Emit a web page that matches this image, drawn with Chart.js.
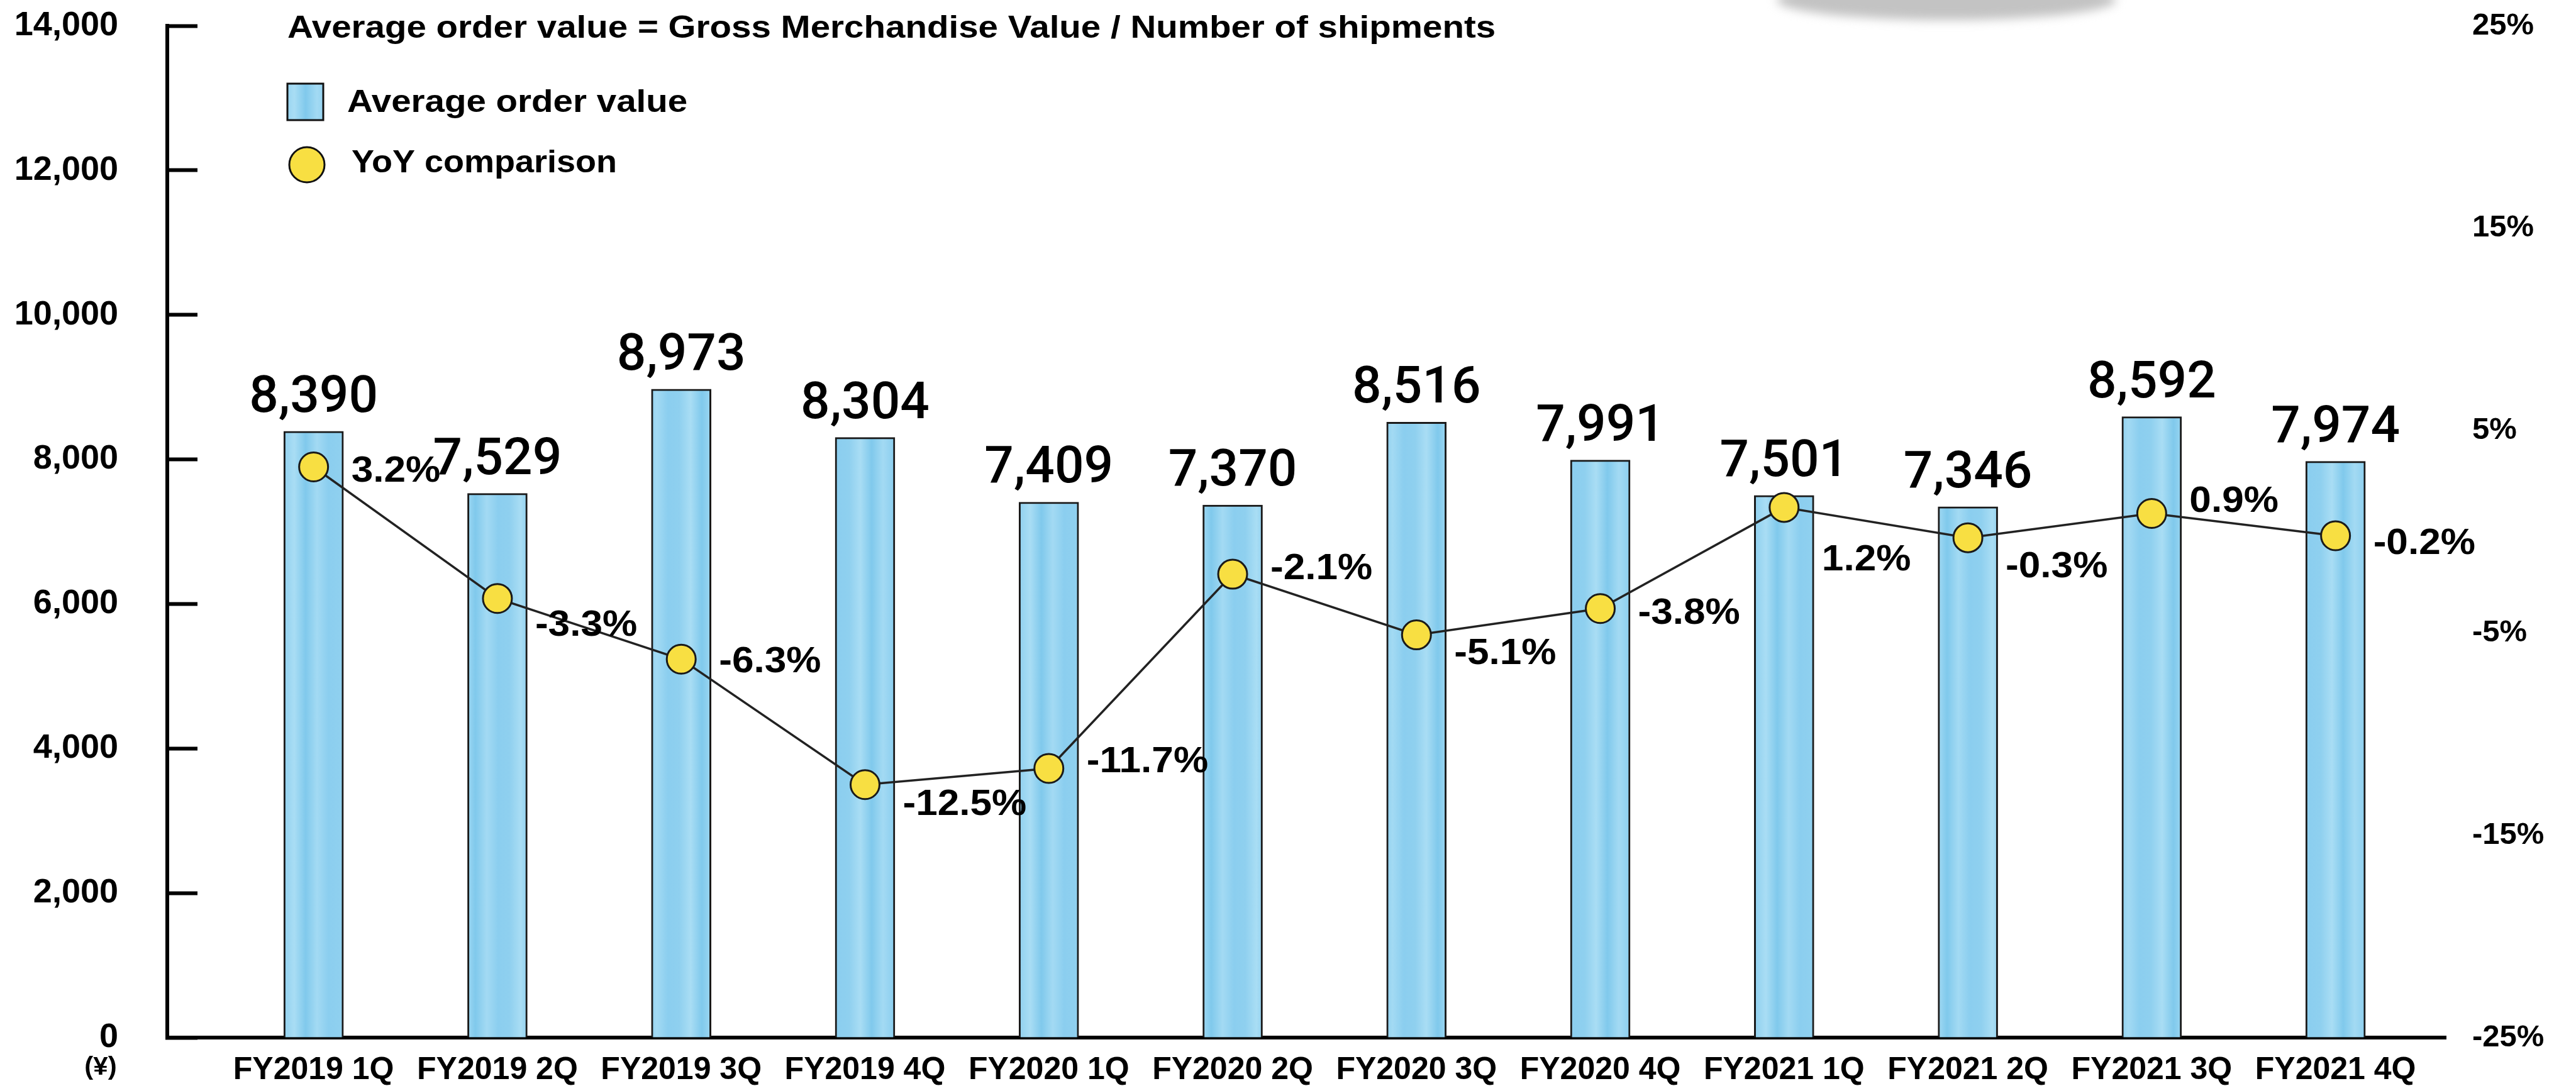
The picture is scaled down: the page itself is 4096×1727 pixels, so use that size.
<!DOCTYPE html>
<html>
<head>
<meta charset="utf-8">
<title>Average order value</title>
<script src="https://cdn.jsdelivr.net/npm/chart.js@4.4.1/dist/chart.umd.min.js"></script>
<style>
  html, body { margin: 0; padding: 0; background: #fff; }
  #wrap { width: 4096px; height: 1727px; }
</style>
</head>
<body>
<div id="wrap"><canvas id="orderChart"></canvas></div>
<script>
const quarters = ['FY2019 1Q', 'FY2019 2Q', 'FY2019 3Q', 'FY2019 4Q',
                  'FY2020 1Q', 'FY2020 2Q', 'FY2020 3Q', 'FY2020 4Q',
                  'FY2021 1Q', 'FY2021 2Q', 'FY2021 3Q', 'FY2021 4Q'];
const orderValues = [8390, 7529, 8973, 8304, 7409, 7370, 8516, 7991, 7501, 7346, 8592, 7974];
const yoyValues = [3.2, -3.3, -6.3, -12.5, -11.7, -2.1, -5.1, -3.8, 1.2, -0.3, 0.9, -0.2];
const yenTicks = [0, 2000, 4000, 6000, 8000, 10000, 12000, 14000];
const pctTicks = [-25, -15, -5, 5, 15, 25];

const formulaText = 'Average order value = Gross Merchandise Value / Number of shipments';
const barLegend = 'Average order value';
const lineLegend = 'YoY comparison';
const unitLabel = '(¥)';

// vertical nudge of each YoY label, like in the hand drawing
const yoyLabelNudge = [8, 44, 5, 33, -10, -8, 31, 8, 84, 47, -18, 13];

const FONT = "'Liberation Sans', Arial, Helvetica, sans-serif";
const canvas = document.getElementById('orderChart');
const ctx = canvas.getContext('2d');

// watercolour-ish fill for the bars
function watercolor() {
  const c = document.createElement('canvas');
  c.width = 90;
  c.height = 4;
  const g = c.getContext('2d');
  const grad = g.createLinearGradient(0, 0, 90, 0);
  grad.addColorStop(0, '#8fd0ef');
  grad.addColorStop(0.2, '#a9ddf4');
  grad.addColorStop(0.4, '#80c9ec');
  grad.addColorStop(0.6, '#a3daf3');
  grad.addColorStop(0.8, '#8bceef');
  grad.addColorStop(1, '#8fd0ef');
  g.fillStyle = grad;
  g.fillRect(0, 0, 90, 4);
  return ctx.createPattern(c, 'repeat');
}
const barFill = watercolor();

function stretchText(c, text, x, y, font, align, sx) {
  c.save();
  c.font = font;
  c.textAlign = align;
  c.translate(x, y);
  c.scale(sx, 1);
  c.fillText(text, 0, 0);
  c.restore();
}

// keep the tick label padding from pushing the chart area in
function fixVertical(width) {
  return s => {
    s.width = width;
    s.paddingTop = 25;
    s.paddingBottom = 25;
  };
}

const decorations = {
  id: 'decorations',
  beforeDraw(chart) {
    const c = chart.ctx;
    // grey brush smudge at the top edge
    c.save();
    c.filter = 'blur(8px)';
    c.fillStyle = 'rgba(185,185,185,0.85)';
    c.beginPath();
    c.ellipse(3095, 0, 270, 32, 0, 0, Math.PI * 2);
    c.fill();
    c.restore();
  },
  afterDatasetsDraw(chart) {
    const c = chart.ctx;
    c.save();
    c.fillStyle = '#000';

    c.textBaseline = 'alphabetic';
    chart.getDatasetMeta(0).data.forEach((bar, i) => {
      stretchText(c, orderValues[i].toLocaleString('en-US'), bar.x, bar.y - 31,
        `500 82px Roboto, ${FONT}`, 'center', 1);
    });

    c.textBaseline = 'middle';
    chart.getDatasetMeta(1).data.forEach((pt, i) => {
      stretchText(c, yoyValues[i].toFixed(1) + '%', pt.x + 60, pt.y + yoyLabelNudge[i],
        `bold 57px ${FONT}`, 'left', 1.09);
    });
    c.restore();
  },
  afterDraw(chart) {
    const c = chart.ctx;
    c.save();
    c.fillStyle = '#000';
    c.textBaseline = 'middle';
    stretchText(c, formulaText, 457, 46, `bold 50px ${FONT}`, 'left', 1.13);

    // legend: bar swatch
    c.fillStyle = barFill;
    c.fillRect(457, 133, 57, 58);
    c.strokeStyle = '#111';
    c.lineWidth = 3;
    c.strokeRect(457, 133, 57, 58);
    c.fillStyle = '#000';
    stretchText(c, barLegend, 552, 164, `bold 50px ${FONT}`, 'left', 1.13);

    // legend: yoy marker
    c.beginPath();
    c.arc(488, 262, 28, 0, Math.PI * 2);
    c.fillStyle = '#f8df42';
    c.fill();
    c.stroke();
    c.fillStyle = '#000';
    stretchText(c, lineLegend, 559, 260, `bold 50px ${FONT}`, 'left', 1.08);

    stretchText(c, unitLabel, 160, 1698, `bold 40px ${FONT}`, 'center', 1.05);
    c.restore();
  }
};

new Chart(canvas, {
  type: 'bar',
  data: {
    datasets: [
      {
        type: 'bar',
        label: barLegend,
        data: orderValues.map((v, i) => ({ x: i, y: v })),
        yAxisID: 'y',
        backgroundColor: barFill,
        borderColor: '#1a1a1a',
        borderWidth: 3,
        barThickness: 95,
        order: 2
      },
      {
        type: 'line',
        label: lineLegend,
        data: yoyValues.map((v, i) => ({ x: i, y: v })),
        yAxisID: 'y1',
        borderColor: '#222',
        borderWidth: 3.5,
        tension: 0,
        pointRadius: 23,
        pointBackgroundColor: '#f8df42',
        pointBorderColor: '#1a1a1a',
        pointBorderWidth: 3,
        order: 1
      }
    ]
  },
  options: {
    responsive: true,
    maintainAspectRatio: false,
    animation: false,
    layout: { padding: { top: 41, left: 0, right: 0, bottom: 0 } },
    plugins: {
      legend: { display: false },
      tooltip: { enabled: false }
    },
    scales: {
      x: {
        type: 'linear',
        offset: false,
        min: -0.796,
        max: 11.6,
        afterBuildTicks: s => { s.ticks = quarters.map((q, i) => ({ value: i })); },
        afterFit: s => { s.height = 77; },
        grid: { display: false, drawTicks: false, offset: false },
        border: { display: true, color: '#000', width: 6 },
        ticks: {
          autoSkip: false,
          maxRotation: 0,
          padding: 22,
          color: '#000',
          font: { family: FONT, size: 50, weight: 'bold' },
          callback: v => quarters[v]
        }
      },
      y: {
        position: 'left',
        min: 0,
        max: 14000,
        afterBuildTicks: s => { s.ticks = yenTicks.map(v => ({ value: v })); },
        afterFit: fixVertical(266),
        grid: { drawOnChartArea: false, drawTicks: true, tickLength: -48, tickWidth: 6, tickColor: '#000' },
        border: { display: true, color: '#000', width: 6 },
        ticks: {
          padding: 126,
          color: '#000',
          font: { family: FONT, size: 54, weight: 'bold' },
          callback: v => v.toLocaleString('en-US')
        }
      },
      y1: {
        position: 'right',
        min: -25,
        max: 25,
        afterBuildTicks: s => { s.ticks = pctTicks.map(v => ({ value: v })); },
        afterFit: fixVertical(207),
        grid: { display: false, drawTicks: false },
        border: { display: false },
        ticks: {
          padding: 42,
          color: '#000',
          font: { family: FONT, size: 49, weight: 'bold' },
          callback: v => v + '%'
        }
      }
    }
  },
  plugins: [decorations]
});
</script>
</body>
</html>
